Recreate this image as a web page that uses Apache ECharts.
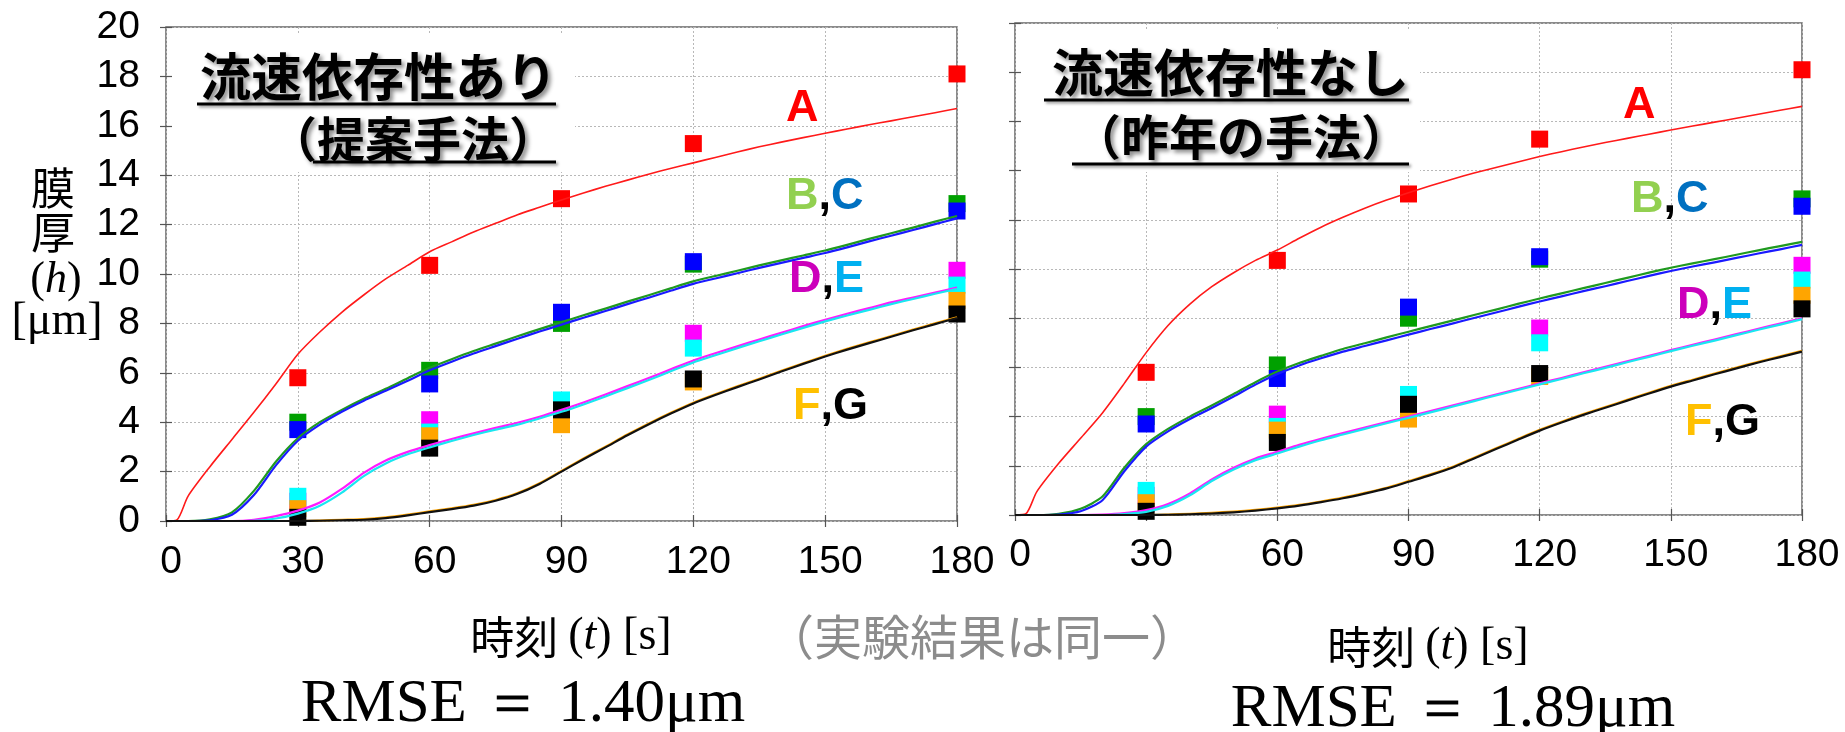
<!DOCTYPE html>
<html>
<head>
<meta charset="utf-8">
<script src="https://cdn.jsdelivr.net/npm/echarts@6/dist/echarts.min.js"></script>
<style>
  html, body { margin: 0; padding: 0; background: #fff; }
  #chart { width: 1845px; height: 732px; }
</style>
</head>
<body>
<div id="chart"></div>
<script>
// Measurement times of the experiment [s]
const expTimes = [30, 60, 90, 120, 180];
// Measured film thickness at positions A..G [um] (shared by both panels)
const expA = [5.8, 10.35, 13.05, 15.28, 18.1];
const expB = [4.0, 6.1, 8.0, 10.4, 12.85];
const expC = [3.7, 5.55, 8.45, 10.5, 12.55];
const expD = [0.8, 4.1, 4.6, 7.6, 10.15];
const expE = [1.0, 3.6, 4.9, 7.0, 9.55];
const expF = [0.5, 3.45, 3.9, 5.63, 8.93];
const expG = [0.15, 2.95, 4.5, 5.75, 8.38];

// Simulation output times [s]
const simTimes = [0, 2.5, 5, 10, 15, 20, 25, 30, 35, 40, 45, 50, 55, 60, 65, 70, 75, 80, 85, 90,
  95, 100, 105, 110, 115, 120, 125, 130, 135, 140, 145, 150, 155, 160, 165, 170, 175, 180];

// Simulation with flow-velocity dependence (proposed method)
const withA = [0, 0.05, 1.0, 2.2, 3.3, 4.4, 5.55, 6.75, 7.65, 8.45, 9.15, 9.8, 10.35, 10.9, 11.3, 11.7, 12.05, 12.4, 12.7, 13.0,
  13.28, 13.55, 13.8, 14.05, 14.28, 14.5, 14.72, 14.94, 15.15, 15.34, 15.52, 15.7, 15.87, 16.04, 16.2, 16.37, 16.53, 16.7];
const withB = [0, 0, 0, 0.07, 0.35, 1.22, 2.4, 3.35, 4.0, 4.5, 4.95, 5.35, 5.78, 6.2, 6.55, 6.88, 7.18, 7.48, 7.77, 8.05,
  8.33, 8.6, 8.88, 9.15, 9.43, 9.7, 9.92, 10.13, 10.35, 10.55, 10.75, 10.95, 11.18, 11.42, 11.65, 11.88, 12.12, 12.35];
const withC = [0, 0, 0, 0.03, 0.25, 1.05, 2.25, 3.25, 3.9, 4.42, 4.87, 5.27, 5.68, 6.1, 6.45, 6.78, 7.08, 7.38, 7.67, 7.95,
  8.23, 8.5, 8.78, 9.05, 9.33, 9.6, 9.82, 10.03, 10.25, 10.45, 10.65, 10.85, 11.08, 11.32, 11.55, 11.78, 12.02, 12.25];
const withD = [0, 0, 0, 0, 0, 0.05, 0.2, 0.42, 0.75, 1.3, 1.95, 2.45, 2.8, 3.07, 3.32, 3.55, 3.77, 3.98, 4.22, 4.5,
  4.8, 5.12, 5.46, 5.8, 6.15, 6.5, 6.79, 7.07, 7.35, 7.62, 7.89, 8.15, 8.39, 8.62, 8.85, 9.05, 9.25, 9.45];
const withE = [0, 0, 0, 0, 0, 0.01, 0.1, 0.3, 0.62, 1.15, 1.82, 2.33, 2.7, 2.98, 3.24, 3.48, 3.7, 3.9, 4.15, 4.42,
  4.72, 5.04, 5.38, 5.72, 6.07, 6.42, 6.71, 7.0, 7.28, 7.55, 7.82, 8.08, 8.32, 8.55, 8.78, 8.99, 9.2, 9.4];
const withF = [0, 0, 0, 0, 0, 0, 0, 0, 0.02, 0.05, 0.08, 0.15, 0.26, 0.39, 0.51, 0.65, 0.85, 1.13, 1.53, 2.03,
  2.53, 3.01, 3.5, 3.96, 4.39, 4.79, 5.13, 5.45, 5.76, 6.08, 6.39, 6.69, 6.97, 7.23, 7.49, 7.75, 8.0, 8.25];
const withG = [0, 0, 0, 0, 0, 0, 0, 0, 0.01, 0.03, 0.05, 0.12, 0.23, 0.36, 0.48, 0.62, 0.82, 1.1, 1.5, 2.0,
  2.5, 2.98, 3.47, 3.93, 4.36, 4.76, 5.1, 5.42, 5.73, 6.05, 6.36, 6.66, 6.94, 7.2, 7.46, 7.72, 7.97, 8.22];

// Simulation without flow-velocity dependence (last year's method)
const withoutA = [0, 0.05, 0.95, 2.1, 3.12, 4.15, 5.35, 6.6, 7.7, 8.57, 9.28, 9.85, 10.35, 10.77, 11.25, 11.7, 12.1, 12.47, 12.8, 13.1,
  13.38, 13.65, 13.9, 14.13, 14.35, 14.57, 14.77, 14.96, 15.14, 15.31, 15.48, 15.65, 15.81, 15.97, 16.13, 16.29, 16.45, 16.61];
const withoutB = [0, 0, 0, 0.05, 0.25, 0.75, 1.92, 2.88, 3.5, 4.0, 4.45, 4.92, 5.4, 5.83, 6.18, 6.47, 6.75, 6.98, 7.22, 7.45,
  7.68, 7.9, 8.13, 8.35, 8.58, 8.8, 9.01, 9.22, 9.43, 9.64, 9.85, 10.05, 10.23, 10.4, 10.58, 10.76, 10.93, 11.1];
const withoutC = [0, 0, 0, 0.02, 0.15, 0.6, 1.78, 2.78, 3.4, 3.9, 4.35, 4.82, 5.3, 5.73, 6.08, 6.37, 6.64, 6.87, 7.1, 7.33,
  7.56, 7.78, 8.01, 8.23, 8.46, 8.68, 8.89, 9.1, 9.3, 9.51, 9.72, 9.92, 10.1, 10.27, 10.45, 10.63, 10.8, 10.98];
const withoutD = [0, 0, 0, 0, 0, 0.02, 0.08, 0.2, 0.45, 0.88, 1.45, 1.92, 2.3, 2.57, 2.85, 3.1, 3.33, 3.55, 3.78, 4.0,
  4.22, 4.45, 4.67, 4.9, 5.12, 5.35, 5.57, 5.8, 6.02, 6.25, 6.47, 6.7, 6.92, 7.13, 7.35, 7.57, 7.78, 8.0];
const withoutE = [0, 0, 0, 0, 0, 0, 0.04, 0.13, 0.37, 0.8, 1.38, 1.85, 2.23, 2.5, 2.78, 3.04, 3.27, 3.5, 3.73, 3.95,
  4.17, 4.4, 4.63, 4.86, 5.08, 5.31, 5.53, 5.76, 5.98, 6.21, 6.43, 6.66, 6.88, 7.09, 7.31, 7.53, 7.74, 7.96];
const withoutF = [0, 0, 0, 0, 0, 0, 0, 0, 0.02, 0.05, 0.09, 0.14, 0.21, 0.3, 0.41, 0.55, 0.71, 0.9, 1.11, 1.38,
  1.65, 1.95, 2.33, 2.71, 3.09, 3.46, 3.79, 4.1, 4.39, 4.68, 4.97, 5.25, 5.5, 5.75, 5.99, 6.23, 6.45, 6.67];
const withoutG = [0, 0, 0, 0, 0, 0, 0, 0, 0.01, 0.03, 0.06, 0.11, 0.18, 0.27, 0.38, 0.52, 0.68, 0.87, 1.08, 1.35,
  1.62, 1.92, 2.3, 2.68, 3.06, 3.43, 3.76, 4.07, 4.36, 4.65, 4.94, 5.22, 5.47, 5.72, 5.96, 6.2, 6.42, 6.64];

// Axis ticks
const xTicks = [0, 30, 60, 90, 120, 150, 180];
const yTicks = [0, 2, 4, 6, 8, 10, 12, 14, 16, 18, 20];

const names = ['A', 'B', 'C', 'D', 'E', 'F', 'G'];
const markColors = ['#ff0000', '#00a000', '#0000ff', '#ff00ff', '#00ffff', '#ffa500', '#000000'];
const lineColors = ['#ff1a1a', '#1f9a1f', '#1a1aff', '#ff1aff', '#1ae6f0', '#ffa500', '#111111'];
const expSets = [expA, expB, expC, expD, expE, expF, expG];
const withSets = [withA, withB, withC, withD, withE, withF, withG];
const withoutSets = [withoutA, withoutB, withoutC, withoutD, withoutE, withoutF, withoutG];

const pair = (xs, ys) => xs.map((x, i) => [x, ys[i]]);

const grids = [
  { left: 166, top: 27, width: 791, height: 494 },
  { left: 1015, top: 23, width: 787, height: 492 }
];

const tickFont = 'Liberation Sans, Arial, sans-serif';

function xAxesFor(gi, margin) {
  const common = {
    type: 'value', gridIndex: gi, min: xTicks[0], max: xTicks[xTicks.length - 1],
    interval: xTicks[1] - xTicks[0],
    axisLine: { show: false },
    axisTick: { show: true, inside: true, length: 6, lineStyle: { color: '#555', width: 1.2 } }
  };
  return [
    Object.assign({}, common, {
      position: 'bottom',
      axisLabel: { show: true, fontSize: 39, color: '#000', fontFamily: tickFont, margin: margin, padding: [0, 0, 0, 10] },
      splitLine: { show: true, lineStyle: { color: '#b8b8b8', type: [2, 2], width: 1 } }
    }),
    Object.assign({}, common, {
      position: 'top',
      axisLabel: { show: false },
      splitLine: { show: false }
    })
  ];
}

function yAxesFor(gi, showLabels) {
  const common = {
    type: 'value', gridIndex: gi, min: yTicks[0], max: yTicks[yTicks.length - 1],
    interval: yTicks[1] - yTicks[0],
    axisLine: { show: false },
    axisTick: { show: true, inside: true, length: 6, lineStyle: { color: '#555', width: 1.2 } }
  };
  return [
    Object.assign({}, common, {
      position: 'left',
      axisLabel: { show: showLabels, fontSize: 39, color: '#000', fontFamily: tickFont, margin: 26 },
      splitLine: { show: true, lineStyle: { color: '#b8b8b8', type: [2, 2], width: 1 } }
    }),
    Object.assign({}, common, {
      position: 'right',
      axisLabel: { show: false },
      splitLine: { show: false }
    })
  ];
}

function seriesFor(axisIdx, simSets) {
  const out = [];
  simSets.forEach((vals, i) => {
    out.push({
      name: names[i] + '_sim', type: 'line', xAxisIndex: axisIdx, yAxisIndex: axisIdx,
      data: pair(simTimes, vals), smooth: 0.25, showSymbol: false,
      symbol: 'none', z: 4,
      lineStyle: { color: lineColors[i], width: i === 0 ? 1.6 : 2.2, join: 'round' }
    });
  });
  expSets.forEach((vals, i) => {
    out.push({
      name: names[i] + '_exp', type: 'scatter', xAxisIndex: axisIdx, yAxisIndex: axisIdx,
      data: pair(expTimes, vals), symbol: 'rect', symbolSize: 17, z: 3,
      itemStyle: { color: markColors[i], opacity: 1 }
    });
  });
  return out;
}

const shadowText = { textShadowColor: 'rgba(0,0,0,0.45)', textShadowBlur: 4, textShadowOffsetX: 3, textShadowOffsetY: 3 };
const titleFont = '"Noto Sans CJK JP", sans-serif';
const cjkFont = '"Noto Sans CJK JP", sans-serif';
const serif = '"Liberation Serif", "DejaVu Serif", serif';

function titleBlock(box, line1, line2, rightX, y1, y2, ul1, ul2) {
  return [
    { type: 'rect', z: 10, shape: box, style: { fill: '#fff' } },
    { type: 'text', z: 11, x: rightX, y: y1,
      style: Object.assign({ text: line1, fill: '#000', fontSize: 51, fontWeight: 'bold', fontFamily: titleFont, align: 'right', verticalAlign: 'middle' }, shadowText) },
    { type: 'text', z: 11, x: rightX, y: y2,
      style: Object.assign({ text: line2, fill: '#000', fontSize: 48, fontWeight: 'bold', fontFamily: titleFont, align: 'right', verticalAlign: 'middle' }, shadowText) },
    { type: 'line', z: 11, shape: ul1, style: { stroke: '#000', lineWidth: 3, shadowColor: 'rgba(0,0,0,0.4)', shadowBlur: 3, shadowOffsetX: 2, shadowOffsetY: 2 } },
    { type: 'line', z: 11, shape: ul2, style: { stroke: '#000', lineWidth: 3, shadowColor: 'rgba(0,0,0,0.4)', shadowBlur: 3, shadowOffsetX: 2, shadowOffsetY: 2 } }
  ];
}

const labelFont = '"Liberation Sans", Arial, sans-serif';
function curveLabel(x, y, parts) {
  const rich = {};
  let text = '';
  parts.forEach((p, k) => {
    rich['p' + k] = { fill: p[1], fontSize: 45, fontWeight: 'bold', fontFamily: labelFont };
    text += '{p' + k + '|' + p[0] + '}';
  });
  return { type: 'text', z: 11, x: x, y: y, style: { text: text, rich: rich, align: 'left', verticalAlign: 'middle' } };
}

function axisTitleX(cx, cy) {
  return { type: 'text', z: 11, x: cx, y: cy, style: {
    text: '{a|時刻 }{b|(}{c|t}{b|) [s]}', align: 'center', verticalAlign: 'middle',
    rich: {
      a: { fontSize: 44, fontFamily: cjkFont, fill: '#000' },
      b: { fontSize: 46, fontFamily: serif, fill: '#000' },
      c: { fontSize: 46, fontFamily: serif, fontStyle: 'italic', fill: '#000' }
    }
  } };
}

const graphics = [].concat(
  titleBlock({ x: 173, y: 34, width: 402, height: 138 }, '流速依存性あり', '（提案手法）', 557, 77, 139,
    { x1: 197, y1: 104, x2: 556, y2: 104 }, { x1: 313, y1: 162, x2: 556, y2: 162 }),
  titleBlock({ x: 1022, y: 30, width: 398, height: 142 }, '流速依存性なし', '（昨年の手法）', 1409, 73, 137,
    { x1: 1044, y1: 100, x2: 1409, y2: 100 }, { x1: 1072, y1: 164, x2: 1409, y2: 164 }),
  [
    curveLabel(786, 109, [['A', '#ff0000']]),
    curveLabel(786, 197, [['B', '#92d050'], [',', '#000'], ['C', '#0070c0']]),
    curveLabel(789, 280, [['D', '#cc00bb'], [',', '#000'], ['E', '#00b0f0']]),
    curveLabel(793, 407, [['F', '#ffc000'], [',', '#000'], ['G', '#000']]),
    curveLabel(1623, 106, [['A', '#ff0000']]),
    curveLabel(1631, 200, [['B', '#92d050'], [',', '#000'], ['C', '#0070c0']]),
    curveLabel(1677, 306, [['D', '#cc00bb'], [',', '#000'], ['E', '#00b0f0']]),
    curveLabel(1685, 423, [['F', '#ffc000'], [',', '#000'], ['G', '#000']]),
    // vertical axis title
    { type: 'text', z: 11, x: 53, y: 188, style: { text: '膜', fontSize: 44, fontFamily: cjkFont, fill: '#000', align: 'center', verticalAlign: 'middle' } },
    { type: 'text', z: 11, x: 53, y: 232, style: { text: '厚', fontSize: 44, fontFamily: cjkFont, fill: '#000', align: 'center', verticalAlign: 'middle' } },
    { type: 'text', z: 11, x: 56, y: 280, style: { text: '{b|(}{c|h}{b|)}', align: 'center', verticalAlign: 'middle',
      rich: { b: { fontSize: 44, fontFamily: serif, fill: '#000' }, c: { fontSize: 44, fontFamily: serif, fontStyle: 'italic', fill: '#000' } } } },
    { type: 'text', z: 11, x: 57, y: 322, style: { text: '[μm]', fontSize: 46, fontFamily: serif, fill: '#000', align: 'center', verticalAlign: 'middle' } },
    axisTitleX(571, 637),
    axisTitleX(1428, 647),
    { type: 'text', z: 11, x: 982, y: 637, style: { text: '（実験結果は同一）', fontSize: 48, fontFamily: cjkFont, fill: '#8c8c8c', align: 'center', verticalAlign: 'middle' } },
    { type: 'text', z: 11, x: 523, y: 705, style: { text: 'RMSE ＝ 1.40μm', fontSize: 61, fontFamily: serif, fill: '#000', align: 'center', verticalAlign: 'middle' } },
    { type: 'text', z: 11, x: 1453, y: 710, style: { text: 'RMSE ＝ 1.89μm', fontSize: 61, fontFamily: serif, fill: '#000', align: 'center', verticalAlign: 'middle' } }
  ]
);

const chart = echarts.init(document.getElementById('chart'), null, { renderer: 'canvas' });
chart.setOption({
  animation: false,
  backgroundColor: '#fff',
  grid: grids.map(g => Object.assign({ show: true, borderColor: '#666', borderWidth: 1.5, backgroundColor: 'transparent' }, g)),
  xAxis: [].concat(xAxesFor(0, 22), xAxesFor(1, 21)),
  yAxis: [].concat(yAxesFor(0, true), yAxesFor(1, false)),
  series: [].concat(seriesFor(0, withSets), seriesFor(2, withoutSets)),
  graphic: graphics
});
</script>
</body>
</html>
